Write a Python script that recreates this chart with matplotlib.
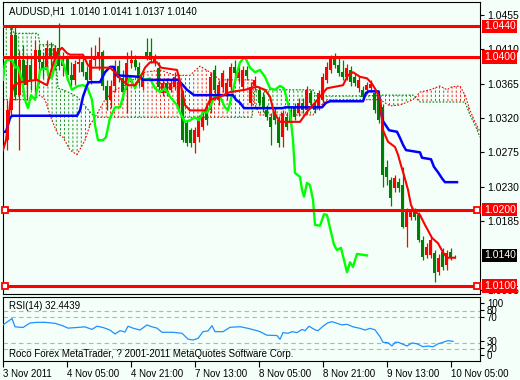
import numpy as np
import matplotlib
matplotlib.use("Agg")
import matplotlib.pyplot as plt
import matplotlib.transforms as mtransforms

plt.rcParams['font.family'] = ['Liberation Sans', 'DejaVu Sans']

# ---- AUDUSD H1 candles (bar index 0..112) ----
opens = [1.0291, 1.0330, 1.0429, 1.0350, 1.0396, 1.0363, 1.0389, 1.0370, 1.0409, 1.0393,
         1.0383, 1.0412, 1.0399, 1.0412, 1.0388, 1.0399, 1.0376, 1.0370, 1.0391, 1.0393,
         1.0380, 1.0370, 1.0396, 1.0399, 1.0406, 1.0362, 1.0344, 1.0362, 1.0388, 1.0372,
         1.0357, 1.0392, 1.0396, 1.0387, 1.0361, 1.0406, 1.0406, 1.0393, 1.0386, 1.0353,
         1.0366, 1.0357, 1.0361, 1.0334, 1.0353, 1.0313, 1.0304, 1.0287, 1.0295, 1.0308,
         1.0330, 1.0330, 1.0383, 1.0344, 1.0361, 1.0353, 1.0361, 1.0387, 1.0372, 1.0361,
         1.0383, 1.0340, 1.0362, 1.0357, 1.0348, 1.0330, 1.0321, 1.0327, 1.0317, 1.0295,
         1.0321, 1.0313, 1.0334, 1.0327, 1.0340, 1.0330, 1.0353, 1.0340, 1.0334, 1.0344,
         1.0370, 1.0383, 1.0399, 1.0389, 1.0380, 1.0374, 1.0383, 1.0374, 1.0359, 1.0357,
         1.0357, 1.0359, 1.0353, 1.0353, 1.0334, 1.0256, 1.0239, 1.0228, 1.0236, 1.0232,
         1.0177, 1.0190, 1.0197, 1.0193, 1.0160, 1.0140, 1.0140, 1.0143, 1.0118, 1.0144,
         1.0127, 1.0144, 1.0140]
closes = [1.0330, 1.0429, 1.0350, 1.0396, 1.0363, 1.0389, 1.0370, 1.0409, 1.0393, 1.0383,
          1.0412, 1.0399, 1.0412, 1.0388, 1.0399, 1.0376, 1.0370, 1.0391, 1.0393, 1.0380,
          1.0370, 1.0396, 1.0401, 1.0406, 1.0362, 1.0344, 1.0362, 1.0388, 1.0372, 1.0354,
          1.0392, 1.0396, 1.0387, 1.0366, 1.0374, 1.0401, 1.0396, 1.0400, 1.0361, 1.0366,
          1.0353, 1.0366, 1.0374, 1.0367, 1.0291, 1.0287, 1.0287, 1.0304, 1.0317, 1.0321,
          1.0317, 1.0374, 1.0357, 1.0363, 1.0379, 1.0366, 1.0387, 1.0379, 1.0380, 1.0383,
          1.0375, 1.0361, 1.0370, 1.0340, 1.0334, 1.0321, 1.0308, 1.0317, 1.0287, 1.0327,
          1.0308, 1.0330, 1.0321, 1.0340, 1.0330, 1.0357, 1.0340, 1.0330, 1.0353, 1.0374,
          1.0387, 1.0400, 1.0389, 1.0379, 1.0374, 1.0386, 1.0367, 1.0366, 1.0370, 1.0348,
          1.0363, 1.0365, 1.0330, 1.0317, 1.0245, 1.0243, 1.0215, 1.0241, 1.0228, 1.0177,
          1.0197, 1.0197, 1.0190, 1.0160, 1.0138, 1.0151, 1.0160, 1.0117, 1.0137, 1.0125,
          1.0143, 1.0138, 1.0140]
highs = [1.0344, 1.0442, 1.0442, 1.0409, 1.0416, 1.0403, 1.0403, 1.0422, 1.0416, 1.0406,
         1.0422, 1.0420, 1.0416, 1.0444, 1.0406, 1.0403, 1.0393, 1.0396, 1.0403, 1.0399,
         1.0388, 1.0413, 1.0416, 1.0426, 1.0409, 1.0370, 1.0370, 1.0396, 1.0396, 1.0383,
         1.0406, 1.0409, 1.0403, 1.0393, 1.0380, 1.0425, 1.0425, 1.0404, 1.0393, 1.0370,
         1.0372, 1.0370, 1.0380, 1.0372, 1.0357, 1.0317, 1.0307, 1.0308, 1.0324, 1.0328,
         1.0337, 1.0380, 1.0389, 1.0370, 1.0383, 1.0372, 1.0392, 1.0396, 1.0388, 1.0388,
         1.0388, 1.0367, 1.0375, 1.0362, 1.0354, 1.0337, 1.0327, 1.0333, 1.0323, 1.0330,
         1.0328, 1.0336, 1.0340, 1.0346, 1.0346, 1.0362, 1.0357, 1.0344, 1.0357, 1.0379,
         1.0393, 1.0403, 1.0405, 1.0399, 1.0396, 1.0391, 1.0388, 1.0378, 1.0375, 1.0362,
         1.0367, 1.0370, 1.0359, 1.0357, 1.0338, 1.0265, 1.0243, 1.0245, 1.0241, 1.0256,
         1.0202, 1.0202, 1.0202, 1.0197, 1.0165, 1.0156, 1.0165, 1.0147, 1.0142, 1.0150,
         1.0147, 1.0150, 1.0141]
lows = [1.0278, 1.0324, 1.0344, 1.0278, 1.0350, 1.0344, 1.0357, 1.0344, 1.0383, 1.0372,
        1.0378, 1.0388, 1.0383, 1.0383, 1.0375, 1.0370, 1.0362, 1.0363, 1.0380, 1.0375,
        1.0362, 1.0365, 1.0388, 1.0383, 1.0357, 1.0330, 1.0333, 1.0354, 1.0367, 1.0344,
        1.0327, 1.0386, 1.0383, 1.0362, 1.0357, 1.0396, 1.0392, 1.0388, 1.0357, 1.0349,
        1.0349, 1.0354, 1.0357, 1.0330, 1.0289, 1.0283, 1.0282, 1.0274, 1.0289, 1.0304,
        1.0311, 1.0327, 1.0344, 1.0337, 1.0354, 1.0344, 1.0357, 1.0372, 1.0367, 1.0357,
        1.0370, 1.0336, 1.0357, 1.0336, 1.0328, 1.0317, 1.0285, 1.0312, 1.0282, 1.0282,
        1.0304, 1.0310, 1.0317, 1.0323, 1.0327, 1.0325, 1.0336, 1.0327, 1.0330, 1.0340,
        1.0366, 1.0379, 1.0386, 1.0375, 1.0370, 1.0370, 1.0362, 1.0362, 1.0354, 1.0344,
        1.0351, 1.0354, 1.0327, 1.0313, 1.0230, 1.0232, 1.0205, 1.0223, 1.0223, 1.0176,
        1.0151, 1.0186, 1.0186, 1.0158, 1.0134, 1.0137, 1.0137, 1.0105, 1.0114, 1.0121,
        1.0121, 1.0134, 1.0137]

# ---- Ichimoku lines (bar position, price) ----
tenkan_x = [-1, -0.25, 0.5, 1, 1.75, 3.25, 7.5, 10, 11.25, 12.5, 13.75, 15, 15.75, 19, 20.25,
            21.25, 25.75, 27, 28.25, 30.25, 32, 33.25, 34.5, 35.75, 37.5, 38.5, 42.5, 43.5,
            44.5, 45.75, 49.5, 50.75, 53.25, 55.75, 59.5, 62.5, 64.5, 65.75, 66.75, 68.25,
            73.25, 75, 76.5, 78.25, 80, 84, 85.25, 86.5, 88.25, 90, 91.25, 92.5, 93.25, 94,
            95.25, 97, 97.75, 98.5, 99.25, 100.25, 101, 101.75, 103.25, 104.5, 106.25,
            107.75, 109, 110, 112]
tenkan = [1.0278, 1.0291, 1.0324, 1.0350, 1.0363, 1.0367, 1.0370, 1.0363, 1.0386, 1.0406,
          1.0412, 1.0405, 1.0403, 1.0403, 1.0389, 1.0386, 1.0386, 1.0380, 1.0372, 1.0363,
          1.0363, 1.0372, 1.0386, 1.0393, 1.0393, 1.0386, 1.0383, 1.0363, 1.0337, 1.0330,
          1.0330, 1.0344, 1.0348, 1.0354, 1.0357, 1.0361, 1.0357, 1.0348, 1.0327, 1.0315,
          1.0315, 1.0328, 1.0337, 1.0348, 1.0359, 1.0363, 1.0376, 1.0380, 1.0374, 1.0372,
          1.0365, 1.0354, 1.0344, 1.0304, 1.0289, 1.0282, 1.0272, 1.0258, 1.0245, 1.0226,
          1.0206, 1.0198, 1.0193, 1.0180, 1.0163, 1.0156, 1.0144, 1.0137, 1.0137]

kijun_x = [-1, -0.25, 0.75, 1.25, 17.5, 18.25, 19, 20, 20.5, 23.25, 24.5, 25.75, 26.75, 27.25,
           33.25, 34, 42.75, 44, 45, 46, 46.75, 56.5, 57.25, 58.25, 59.25, 69, 69.5, 78.75,
           79.75, 80.75, 89, 89.75, 90.5, 92.75, 93.25, 93.5, 94, 94.75, 95.5, 97.5, 98.25,
           99, 99.75, 103.25, 103.75, 106, 106.75, 107.75, 108.75, 109.5, 112.5]
kijun = [1.0302, 1.0302, 1.0320, 1.0323, 1.0323, 1.0330, 1.0348, 1.0363, 1.0367, 1.0367,
         1.0380, 1.0387, 1.0387, 1.0376, 1.0374, 1.0370, 1.0370, 1.0363, 1.0357, 1.0353,
         1.0350, 1.0350, 1.0344, 1.0340, 1.0333, 1.0333, 1.0334, 1.0334, 1.0340, 1.0342,
         1.0342, 1.0353, 1.0355, 1.0355, 1.0344, 1.0327, 1.0316, 1.0310, 1.0304, 1.0302,
         1.0294, 1.0285, 1.0278, 1.0275, 1.0268, 1.0266, 1.0256, 1.0249, 1.0241, 1.0236,
         1.0236]

chikou_x = [-1, -0.5, 0, 1.25, 2, 2.75, 3.75, 4.5, 5.25, 6, 7, 7.75, 8.25, 10, 10.5, 11.25,
            12.5, 13.25, 14.25, 15.25, 16.25, 17.75, 19, 20, 21.25, 22, 22.75, 24, 24.75,
            25.75, 27, 28.25, 29.5, 30.75, 32, 33.25, 34.25, 35.75, 37, 38.25, 39.5, 40.75,
            42.5, 43.25, 44.5, 45.75, 47, 48, 49, 50, 50.75, 52, 53.25, 54.5, 55.25, 56.25,
            57.25, 58.25, 59.5, 60.75, 62, 63.25, 64.5, 65.75, 67, 68.25, 69.25, 70, 70.75,
            71.5, 72, 73.25, 73.75, 74.25, 75, 75.75, 76.5, 77, 78.25, 79.25, 80, 80.75,
            81.75, 82.5, 83.5, 84.25, 85, 85.75, 86.5, 87.5, 90]
chikou = [1.0370, 1.0393, 1.0396, 1.0396, 1.0386, 1.0387, 1.0370, 1.0344, 1.0333, 1.0350,
          1.0344, 1.0363, 1.0383, 1.0386, 1.0372, 1.0374, 1.0399, 1.0401, 1.0389, 1.0370,
          1.0357, 1.0362, 1.0363, 1.0361, 1.0344, 1.0311, 1.0291, 1.0291, 1.0295, 1.0320,
          1.0334, 1.0334, 1.0357, 1.0374, 1.0359, 1.0376, 1.0370, 1.0372, 1.0359, 1.0354,
          1.0359, 1.0348, 1.0337, 1.0327, 1.0315, 1.0317, 1.0321, 1.0317, 1.0328, 1.0327,
          1.0334, 1.0350, 1.0348, 1.0334, 1.0330, 1.0350, 1.0374, 1.0393, 1.0400, 1.0386,
          1.0380, 1.0383, 1.0374, 1.0359, 1.0357, 1.0362, 1.0359, 1.0344, 1.0328, 1.0291,
          1.0248, 1.0243, 1.0226, 1.0217, 1.0235, 1.0232, 1.0213, 1.0180, 1.0179, 1.0194,
          1.0193, 1.0176, 1.0154, 1.0147, 1.0150, 1.0134, 1.0118, 1.0131, 1.0125, 1.0142,
          1.0140]

# cloud: senkou span A (red) and span B (green), read on one grid
cloud_x = [-1, 1.25, 1.75, 5.75, 7.75, 8.25, 9.5, 10.75, 12, 12.75, 14, 15.75, 17.5, 19.5,
           20.75, 22, 24.5, 27, 29.5, 32, 34.5, 38.25, 42, 45.75, 48.25, 50.75, 53.25,
           61.25, 62, 63.25, 76.5, 77.25, 80, 88.75, 93.25, 95.75, 98.25, 101.5, 103.25,
           105.75, 108.25, 110, 111.25, 113.25, 114.5, 115.75, 117, 118.25]
span_a = [1.0344, 1.0344, 1.0344, 1.0344, 1.0348, 1.0350, 1.0344, 1.0324, 1.0307, 1.0299,
          1.0295, 1.0278, 1.0272, 1.0291, 1.0311, 1.0321, 1.0344, 1.0357, 1.0363, 1.0372,
          1.0380, 1.0383, 1.0376, 1.0376, 1.0388, 1.0380, 1.0370, 1.0370, 1.0337, 1.0324,
          1.0324, 1.0330, 1.0344, 1.0344, 1.0344, 1.0336, 1.0337, 1.0344, 1.0354, 1.0357,
          1.0362, 1.0357, 1.0361, 1.0362, 1.0350, 1.0330, 1.0315, 1.0302]
span_b = [1.0439, 1.0439, 1.0431, 1.0431, 1.0431, 1.0416, 1.0416, 1.0416, 1.0416, 1.0359,
          1.0357, 1.0353, 1.0348, 1.0336, 1.0328, 1.0321, 1.0321, 1.0321, 1.0321, 1.0321,
          1.0321, 1.0321, 1.0321, 1.0321, 1.0321, 1.0321, 1.0321, 1.0321, 1.0357, 1.0357,
          1.0357, 1.0349, 1.0349, 1.0349, 1.0350, 1.0350, 1.0350, 1.0350, 1.0341, 1.0341,
          1.0341, 1.0341, 1.0341, 1.0341, 1.0341, 1.0324, 1.0311, 1.0295]

# horizontal levels
levels = [1.0440, 1.0400, 1.0200, 1.0100]
boxed_levels = [1.0200, 1.0100]
last_price = 1.0140
price_ticks = [1.0455, 1.0410, 1.0365, 1.0320, 1.0275, 1.0230, 1.0185, 1.0095]

# ---- RSI(14) ----
rsi_x = [-1, 1.25, 2, 4, 5.75, 7.5, 9.5, 12, 13.75, 15.25, 17.5, 19.5, 21.25, 22.5, 24,
         25.75, 27, 28.25, 29.5, 30.25, 31.5, 33.25, 35, 36.25, 37.5, 38.75, 41.5, 43.75,
         45.25, 46.5, 47.75, 49, 50.25, 51.25, 52, 54, 55.75, 58.25, 60.25, 62.5, 63.25,
         65, 67.5, 68.25, 69, 70.25, 71.25, 72.5, 73.75, 74.5, 75.5, 77, 77.75, 79, 80.25,
         81.25, 82.5, 83.75, 85, 86.5, 88.25, 89.5, 90.75, 92, 93.25, 94, 95.25, 96.25, 97,
         97.75, 98.75, 100, 101.25, 102.5, 104, 105.25, 106.5, 107.75, 109, 110.25, 111.5]
rsi = [58, 68, 55, 54, 61, 62, 62, 60.5, 57, 53, 54, 55, 51, 56, 54, 50, 44, 49, 47, 56,
       53, 50, 58, 55, 53, 46.5, 46.5, 45, 36, 34.5, 37, 47.5, 48.7, 56.8, 47.5, 47.5,
       54.3, 55.2, 52.7, 49, 47.5, 42, 41.5, 35.6, 46, 45, 47.5, 46, 51, 49, 56, 50.4, 49,
       56, 61.4, 63, 60.5, 58, 59, 55, 52.7, 50, 52.7, 50.4, 39.7, 31, 30.4, 25.2, 31, 31,
       28.6, 25.2, 30, 28.6, 24.1, 25.2, 24, 28.6, 31, 33.5, 32.44]
rsi_levels = [80, 70, 30, 20]
rsi_label_pos = [92, 81, 70, 33, 22, 11]
rsi_labels = ['100', '80', '70', '30', '20', '0']

# time axis
time_ticks = [-1, 15, 31, 47, 63, 79, 95, 111]
time_labels = ['3 Nov 2011', '4 Nov 05:00', '4 Nov 21:00', '7 Nov 13:00',
               '8 Nov 05:00', '8 Nov 21:00', '9 Nov 13:00', '10 Nov 05:00']

BG = '#f4fff9'
RED = '#ff0000'
DKGREEN = '#008000'
LIME = '#00ff00'
BLUE = '#0000ff'


def hatch_fill(ax, x, y1, y2, color, hatch, hlw, zorder, where=None):
    with plt.rc_context({'hatch.linewidth': hlw}):
        coll = ax.fill_between(x, y1, y2, where=where, interpolate=True, facecolor='none',
                               edgecolor=color, hatch=hatch, linewidth=0, zorder=zorder)
    if hasattr(coll, 'set_hatch_linewidth'):
        coll.set_hatch_linewidth(hlw)
    return coll


fig = plt.figure(figsize=(5.2, 3.8), dpi=100)
fig.patch.set_facecolor(BG)
ax = fig.add_axes([3 / 520, 86 / 380, 477 / 520, 292 / 380])
ax2 = fig.add_axes([3 / 520, 19 / 380, 477 / 520, 64 / 380])
for a in (ax, ax2):
    a.set_facecolor(BG)
    a.set_xlim(-1, 118.25)
    for sp in a.spines.values():
        sp.set_linewidth(0.8)
        sp.set_color('black')

ax.set_ylim(1.00895, 1.0472)

# cloud hatching (vertical dashes)
cx = np.array(cloud_x)
sa = np.array(span_a)
sb = np.array(span_b)
hatch_fill(ax, cx, sa, sb, RED, '||||', 0.6, 1, where=sa >= sb)
hatch_fill(ax, cx, sa, sb, DKGREEN, '||||', 0.6, 1, where=sb >= sa)
# cut the hatch lines into dashes
hatch_fill(ax, cx, sa, sb, BG, '----', 1.4, 1.1)
ax.plot(cx, sa, color=RED, lw=0.8, ls=(0, (1.5, 1.5)), zorder=1.2)
ax.plot(cx, sb, color=DKGREEN, lw=0.8, ls=(0, (1.5, 1.5)), zorder=1.2)

# candles
o = np.array(opens)
c = np.array(closes)
bars = np.arange(len(c))
cols = np.where(c > o, RED, DKGREEN)
ax.vlines(bars, lows, highs, colors=cols, lw=0.9, zorder=3)
ax.bar(bars, np.maximum(np.abs(c - o), 0.00005), bottom=np.minimum(o, c), width=0.75,
       color=cols, linewidth=0, zorder=3)

# ichimoku lines
ax.plot(chikou_x, chikou, color=LIME, lw=1.7, zorder=4)
ax.plot(kijun_x, kijun, color=BLUE, lw=1.8, zorder=4)
ax.plot(tenkan_x, tenkan, color=RED, lw=1.5, zorder=4)

# levels
for lv in levels:
    ax.axhline(lv, color=RED, lw=2.2, zorder=6)
for lv in boxed_levels:
    ax.plot([-0.5, 117.5], [lv, lv], ls='none', marker='s', ms=4.5, mfc='white',
            mec=RED, mew=1.3, zorder=7, clip_on=False)

ax.set_xticks([])
ax.yaxis.tick_right()
ax.set_yticks(price_ticks)
ax.set_yticklabels([f'{t:.4f}' for t in price_ticks])
ax.tick_params(axis='y', labelsize=7.5, length=3, width=0.8, pad=2, colors='black')

trans = mtransforms.blended_transform_factory(ax.transAxes, ax.transData)
for lv in levels:
    ax.text(1.008, lv, f'{lv:.4f}', transform=trans, color='white', fontsize=7.5,
            va='center', ha='left', zorder=10,
            bbox=dict(boxstyle='square,pad=0.15', fc=RED, ec='none'))
ax.text(1.008, last_price, f'{last_price:.4f}', transform=trans, color='white',
        fontsize=7.5, va='center', ha='left', zorder=10,
        bbox=dict(boxstyle='square,pad=0.15', fc='black', ec='none'))

ax.text(0.012, 0.985, 'AUDUSD,H1  1.0140 1.0141 1.0137 1.0140', transform=ax.transAxes,
        fontsize=7, va='top', ha='left', color='black')

# RSI panel
ax2.set_ylim(1.9, 101.4)
for lv in rsi_levels:
    ax2.axhline(lv, color='#b4b4b4', lw=0.8, ls=(0, (4, 3)), zorder=1)
ax2.plot(rsi_x, rsi, color='#1e90ff', lw=0.9, zorder=3)
ax2.yaxis.tick_right()
ax2.set_yticks(rsi_label_pos)
ax2.set_yticklabels(rsi_labels)
ax2.tick_params(axis='y', labelsize=7, length=3, width=0.8, pad=2)
ax2.set_xticks(time_ticks)
ax2.set_xticklabels(time_labels)
for lbl in ax2.get_xticklabels():
    lbl.set_ha('left')
ax2.tick_params(axis='x', labelsize=7, length=4, width=0.8, pad=2)
ax2.text(0.012, 0.93, 'RSI(14) 32.4439', transform=ax2.transAxes, fontsize=7,
         va='top', ha='left', color='black')
ax2.text(0.012, 0.03, 'Roco Forex MetaTrader, ? 2001-2011 MetaQuotes Software Corp.',
         transform=ax2.transAxes, fontsize=7, va='bottom', ha='left', color='black')

fig.savefig('out.png', dpi=100, facecolor=BG)
